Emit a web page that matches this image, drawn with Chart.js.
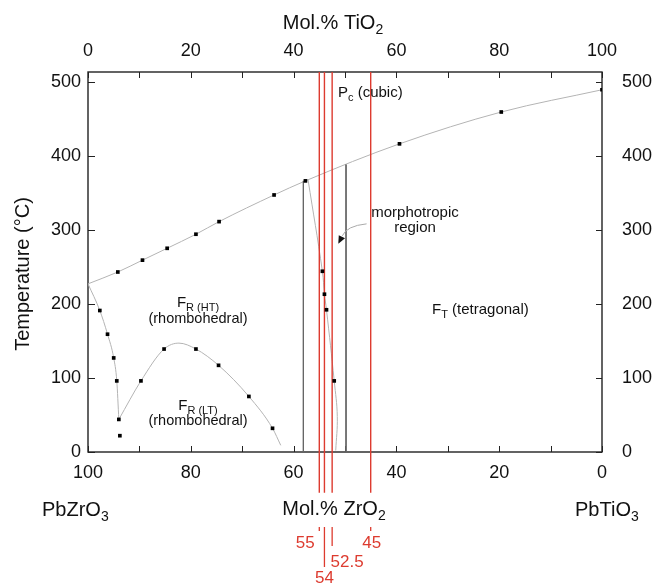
<!DOCTYPE html>
<html>
<head>
<meta charset="utf-8">
<style>
    html, body {
        margin: 0;
        padding: 0;
        background: #fff;
    }
    #wrap {
        width: 657px;
        height: 583px;
    }
</style>
<script src="https://cdn.jsdelivr.net/npm/chart.js"></script>
</head>
<body>
<div id="wrap"><canvas id="phaseChart" width="657" height="583"></canvas></div>
<script>
// PbZrO3 - PbTiO3 phase diagram, x in mol.% TiO2, y in deg C
const xTicks = [0, 10, 20, 30, 40, 50, 60, 70, 80, 90, 100];
const yTicks = [0, 100, 200, 300, 400, 500];
const yMax = 513;

// Curie line (cubic / ferroelectric boundary)
const curieDots = [[5.8, 243], [10.6, 259], [15.4, 275], [21, 294], [25.5, 311], [36.2, 347], [42.3, 366], [60.6, 416], [80.4, 459], [100, 489]];
const curieCurve = [[0, 227], [5.8, 243], [10.6, 259], [15.4, 275], [21, 294], [25.5, 311], [36.2, 347], [42.3, 366], [60.6, 416], [80.4, 459], [100, 489]];

// antiferroelectric / FR(HT) boundary near PbZrO3
const afeDots = [[2.3, 191], [3.8, 159], [5.0, 127], [5.6, 96], [6.0, 44], [6.2, 22]];
const afeCurve = [[0, 227], [2.3, 191], [3.8, 159], [5.0, 127], [5.6, 96], [6.0, 44]];

// FR(HT) / FR(LT) boundary
const ltDots = [[10.3, 96], [14.8, 139], [21, 139], [25.4, 117], [31.3, 75], [35.9, 32]];
const ltCurve = [[6.0, 44], [10.3, 96], [14.8, 139], [17.7, 147], [21, 139], [25.4, 117], [31.3, 75], [35.9, 32], [37.5, 9]];

// rhombohedral / tetragonal boundary
const mpbDots = [[45.6, 244], [46.0, 213], [46.4, 192], [47.9, 96]];
const mpbCurve = [[42.8, 368], [45.6, 244], [46.0, 213], [46.4, 192], [47.9, 96], [48.5, 48], [48.2, 2]];

// edges of the morphotropic region
const mpbLeft = [[41.9, 366], [41.9, 0]];
const mpbRight = [[50.2, 388], [50.2, 0]];

// marked compositions, mol.% ZrO2
const zrMarks = [55, 54, 52.5, 45];
const zrMarkLabels = ['55', '54', '52.5', '45'];

const FONT = '"Liberation Sans", Arial, Helvetica, sans-serif';
const RED = '#dd3b2f';

function pts(arr) {
    return arr.map(p => ({ x: p[0], y: p[1] }));
}

function drawRich(ctx, parts, x, y, size, align) {
    const subSize = Math.round(size * 0.72);
    let w = 0;
    parts.forEach(p => {
        ctx.font = (p[1] ? subSize : size) + 'px ' + FONT;
        w += ctx.measureText(p[0]).width;
    });
    let cx = align === 'center' ? x - w / 2 : x;
    parts.forEach(p => {
        ctx.font = (p[1] ? subSize : size) + 'px ' + FONT;
        ctx.fillText(p[0], cx, p[1] ? y + size * 0.27 : y);
        cx += ctx.measureText(p[0]).width;
    });
}

const frameAndTicks = {
    id: 'frameAndTicks',
    beforeDatasetsDraw(chart) {
        const ctx = chart.ctx;
        const a = chart.chartArea;
        const xs = chart.scales.x, ys = chart.scales.y;
        ctx.save();
        ctx.strokeStyle = '#222';
        ctx.lineWidth = 1.4;
        ctx.strokeRect(a.left, a.top, a.right - a.left, a.bottom - a.top);
        ctx.lineWidth = 1;
        ctx.beginPath();
        xTicks.forEach(v => {
            const px = Math.round(xs.getPixelForValue(v)) + 0.5;
            ctx.moveTo(px, a.top); ctx.lineTo(px, a.top + 6);
            ctx.moveTo(px, a.bottom); ctx.lineTo(px, a.bottom - 6);
        });
        yTicks.forEach(v => {
            const py = Math.round(ys.getPixelForValue(v)) + 0.5;
            ctx.moveTo(a.left, py); ctx.lineTo(a.left + 7, py);
            ctx.moveTo(a.right, py); ctx.lineTo(a.right - 6, py);
        });
        ctx.stroke();
        ctx.restore();
    },
    afterDraw(chart) {
        const ctx = chart.ctx;
        const xs = chart.scales.x, ys = chart.scales.y;
        ctx.save();
        ctx.fillStyle = '#111';
        ctx.textAlign = 'left';
        ctx.textBaseline = 'alphabetic';

        // axis titles
        drawRich(ctx, [['Mol.% TiO'], ['2', 1]], 333, 29, 20, 'center');
        drawRich(ctx, [['Mol.% ZrO'], ['2', 1]], 334, 515, 20, 'center');
        drawRich(ctx, [['PbZrO'], ['3', 1]], 42, 516, 20, 'left');
        drawRich(ctx, [['PbTiO'], ['3', 1]], 575, 516, 20, 'left');

        ctx.save();
        ctx.translate(29, 274);
        ctx.rotate(-Math.PI / 2);
        ctx.font = '20px ' + FONT;
        ctx.textAlign = 'center';
        ctx.fillText('Temperature (°C)', 0, 0);
        ctx.restore();

        // phase field labels
        drawRich(ctx, [['P'], ['c', 1], [' (cubic)']], 338, 97, 15, 'left');
        drawRich(ctx, [['F'], ['R (HT)', 1]], 198, 307, 15, 'center');
        drawRich(ctx, [['(rhombohedral)']], 198, 323, 14.5, 'center');
        drawRich(ctx, [['F'], ['R (LT)', 1]], 198, 410, 15, 'center');
        drawRich(ctx, [['(rhombohedral)']], 198, 425, 14.5, 'center');
        drawRich(ctx, [['F'], ['T', 1], [' (tetragonal)']], 432, 314, 15, 'left');
        drawRich(ctx, [['morphotropic']], 415, 217, 15, 'center');
        drawRich(ctx, [['region']], 415, 232, 15, 'center');

        // arrow into the morphotropic region
        const sx = xs.getPixelForValue(54.2), sy = ys.getPixelForValue(308);
        const tx = xs.getPixelForValue(48.7), ty = ys.getPixelForValue(281);
        ctx.strokeStyle = '#aaa';
        ctx.lineWidth = 1;
        ctx.beginPath();
        ctx.moveTo(sx, sy);
        ctx.quadraticCurveTo(sx - 20, sy + 2, tx + 4, ty - 8);
        ctx.stroke();
        const ang = Math.atan2(8, -4);
        ctx.fillStyle = '#111';
        ctx.beginPath();
        ctx.moveTo(tx, ty);
        ctx.lineTo(tx - 8 * Math.cos(ang) + 3.5 * Math.sin(ang), ty - 8 * Math.sin(ang) - 3.5 * Math.cos(ang));
        ctx.lineTo(tx - 8 * Math.cos(ang) - 3.5 * Math.sin(ang), ty - 8 * Math.sin(ang) + 3.5 * Math.cos(ang));
        ctx.closePath();
        ctx.fill();

        // red composition labels under the axis title
        const leaderLen = [4, 40, 19, 4];
        const labelDx = [-14, 0, 15, 1];
        const labelY = [548, 583, 567, 548];
        ctx.strokeStyle = RED;
        ctx.fillStyle = RED;
        ctx.lineWidth = 1.3;
        zrMarks.forEach((z, i) => {
            const px = xs.getPixelForValue(100 - z);
            ctx.beginPath();
            ctx.moveTo(px, 527);
            ctx.lineTo(px, 527 + leaderLen[i]);
            ctx.stroke();
            drawRich(ctx, [[zrMarkLabels[i]]], px + labelDx[i], labelY[i], 17, 'center');
        });
        ctx.restore();
    }
};

const gray = '#b4b4b4';
const datasets = [];
datasets.push({
    data: pts([].concat(curieDots, afeDots, ltDots, mpbDots)),
    showLine: false,
    pointStyle: 'rect',
    pointRadius: 2.6,
    pointBorderWidth: 0,
    pointBackgroundColor: '#000',
    order: 0
});
zrMarks.forEach(z => {
    datasets.push({
        data: [{ x: 100 - z, y: yMax }, { x: 100 - z, y: -55 }],
        showLine: true,
        borderColor: RED,
        borderWidth: 1.4,
        pointRadius: 0,
        clip: false,
        order: 1
    });
});
[mpbLeft, mpbRight].forEach(l => {
    datasets.push({
        data: pts(l),
        showLine: true,
        borderColor: '#666',
        borderWidth: 1,
        pointRadius: 0,
        order: 2
    });
});
[curieCurve, afeCurve, ltCurve].forEach(c => {
    datasets.push({
        data: pts(c),
        showLine: true,
        borderColor: gray,
        borderWidth: 1,
        pointRadius: 0,
        cubicInterpolationMode: 'monotone',
        order: 3
    });
});
datasets.push({
    data: pts(mpbCurve),
    showLine: true,
    borderColor: gray,
    borderWidth: 1,
    pointRadius: 0,
    tension: 0.4,
    order: 3
});

const tickFont = { size: 18, family: FONT };
const noGrid = { display: false, drawTicks: false };

new Chart(document.getElementById('phaseChart').getContext('2d'), {
    type: 'scatter',
    data: { datasets: datasets },
    plugins: [frameAndTicks],
    options: {
        responsive: false,
        animation: false,
        layout: { padding: 0 },
        plugins: {
            legend: { display: false },
            tooltip: { enabled: false }
        },
        scales: {
            x: {
                position: 'bottom',
                min: 0, max: 100,
                grid: noGrid,
                border: { display: false },
                ticks: {
                    stepSize: 10, autoSkip: false, maxRotation: 0, padding: 10,
                    color: '#111', font: tickFont,
                    callback: v => (v % 20 === 0 ? String(100 - v) : '')
                },
                afterFit: s => { s.height = 131; }
            },
            x2: {
                position: 'top',
                type: 'linear',
                display: true,
                min: 0, max: 100,
                grid: noGrid,
                border: { display: false },
                ticks: {
                    stepSize: 10, autoSkip: false, maxRotation: 0, padding: 10,
                    color: '#111', font: tickFont,
                    callback: v => (v % 20 === 0 ? String(v) : '')
                },
                afterFit: s => { s.height = 72; }
            },
            y: {
                position: 'left',
                min: 0, max: yMax,
                grid: noGrid,
                border: { display: false },
                ticks: {
                    stepSize: 100, includeBounds: false, padding: 7,
                    color: '#111', font: tickFont,
                    callback: v => (v % 100 === 0 ? String(v) : '')
                },
                afterFit: s => { s.width = 88; }
            },
            y2: {
                position: 'right',
                type: 'linear',
                display: true,
                min: 0, max: yMax,
                grid: noGrid,
                border: { display: false },
                ticks: {
                    stepSize: 100, includeBounds: false, padding: 20,
                    color: '#111', font: tickFont,
                    callback: v => (v % 100 === 0 ? String(v) : '')
                },
                afterFit: s => { s.width = 55; }
            }
        }
    }
});
</script>
</body>
</html>
